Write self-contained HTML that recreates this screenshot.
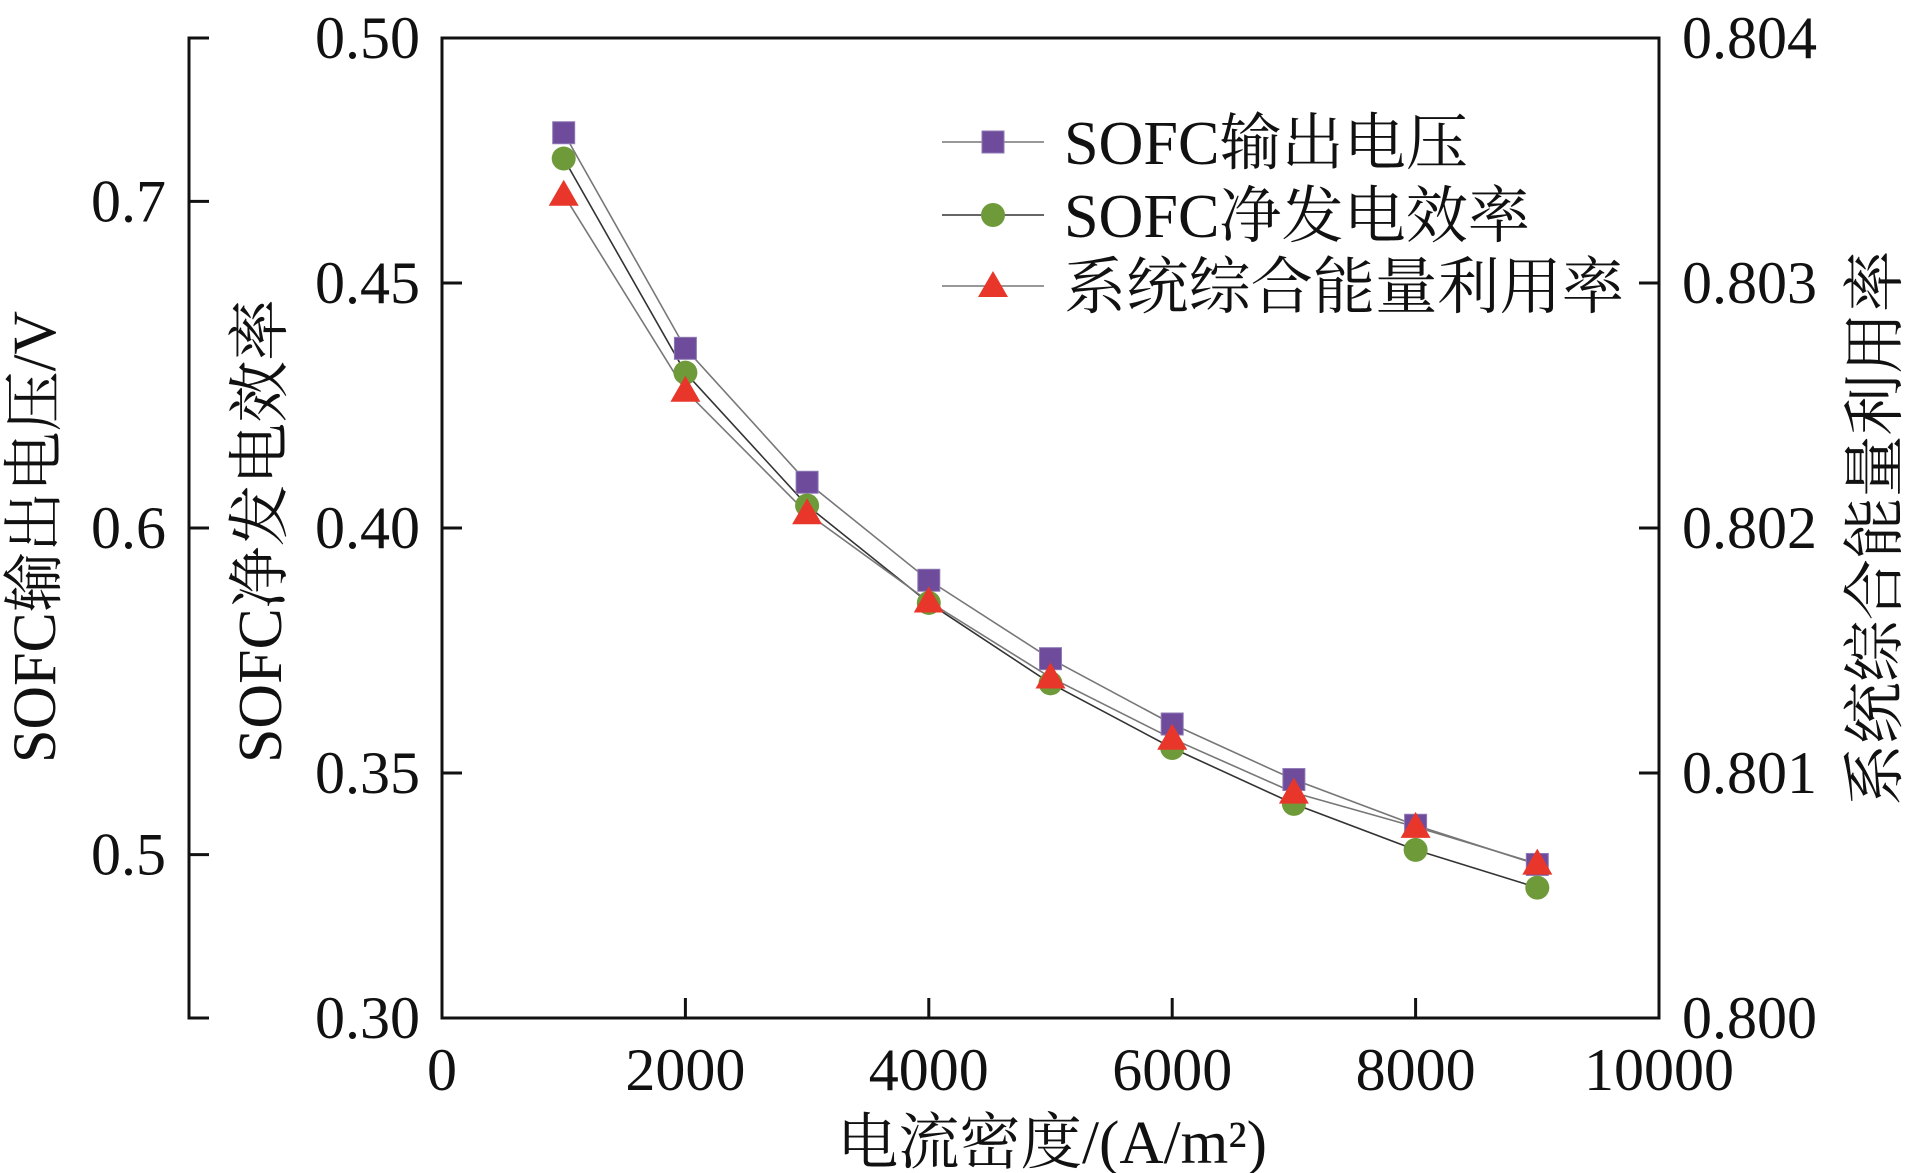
<!DOCTYPE html>
<html><head><meta charset="utf-8"><style>
html,body{margin:0;padding:0;background:#fff;}
svg{display:block;}
text{font-family:"Liberation Serif","Noto Serif CJK SC",serif;fill:#111;}
</style></head><body>
<svg id="chart" width="1908" height="1173" viewBox="0 0 1908 1173"></svg>
<script>
const categories=[1000,2000,3000,4000,5000,6000,7000,8000,9000];
const voltage=[0.721,0.655,0.614,0.584,0.560,0.540,0.523,0.509,0.497];
const efficiency=[0.4754,0.4317,0.4046,0.3847,0.3683,0.3551,0.3437,0.3343,0.3266];
const utilization=[0.80336,0.80256,0.80206,0.80170,0.80139,0.80114,0.80092,0.80078,0.80063];
const xTicks=[0,2000,4000,6000,8000,10000];
const effTicks=["0.30","0.35","0.40","0.45","0.50"];
const voltTicks=["0.5","0.6","0.7"];
const utilTicks=["0.800","0.801","0.802","0.803","0.804"];

const NS="http://www.w3.org/2000/svg";
const svg=document.getElementById('chart');
const L=442,R=1659,T=38,B=1018,OX=189;
const xs=v=>L+(v-0)/10000*(R-L);
const yE=v=>B-(v-0.30)/0.20*(B-T);
const yV=v=>B-(v-0.45)/0.30*(B-T);
const yU=v=>B-(v-0.800)/0.004*(B-T);
function el(tag,attrs,parent){const e=document.createElementNS(NS,tag);for(const k in attrs)e.setAttribute(k,attrs[k]);(parent||svg).appendChild(e);return e;}
function txt(s,attrs){const t=el('text',attrs);t.textContent=s;return t;}

let f=el('rect',{x:L,y:T,width:R-L,height:B-T,fill:'none',stroke:'#111','stroke-width':3});


let oa=el('path',{d:`M${OX+20},${T} H${OX} V${B} H${OX+20}`,fill:'none',stroke:'#111','stroke-width':3});



xTicks.forEach(v=>{
  const x=xs(v);
  if(v>0&&v<10000){const l=el('line',{x1:x,y1:B,x2:x,y2:B-20,stroke:'#111','stroke-width':3});
  
  }
  const t=txt(String(v),{x:x,y:1090,'font-size':60,'text-anchor':'middle'});
  
  
});
effTicks.forEach(s=>{
  const y=yE(+s);
  if(y>T+2&&y<B-2){const l=el('line',{x1:L,y1:y,x2:L+20,y2:y,stroke:'#111','stroke-width':3});
  
  }
  const t=txt(s,{x:420,y:y+20,'font-size':60,'text-anchor':'end'});
  
  
});
voltTicks.forEach(s=>{
  const y=yV(+s);
  const l=el('line',{x1:OX,y1:y,x2:OX+20,y2:y,stroke:'#111','stroke-width':3});
  
  
  const t=txt(s,{x:166,y:y+20,'font-size':60,'text-anchor':'end'});
  
  
});
utilTicks.forEach(s=>{
  const y=yU(+s);
  if(y>T+2&&y<B-2){const l=el('line',{x1:R,y1:y,x2:R-20,y2:y,stroke:'#111','stroke-width':3});
  
  }
  const t=txt(s,{x:1682,y:y+20,'font-size':60,'text-anchor':'start'});
  
  
});

let t1=txt('SOFC输出电压/V',{x:0,y:0,'font-size':61,'text-anchor':'middle',transform:'translate(55,537) rotate(-90)',textLength:452,lengthAdjust:'spacingAndGlyphs'});


let t2=txt('SOFC净发电效率',{x:0,y:0,'font-size':62,'text-anchor':'middle',transform:'translate(281,531) rotate(-90)',textLength:464,lengthAdjust:'spacingAndGlyphs'});


let t3=txt('系统综合能量利用率',{x:0,y:0,'font-size':62,'text-anchor':'middle',transform:'translate(1896,528) rotate(-90)',textLength:555,lengthAdjust:'spacingAndGlyphs'});


let t4=txt('电流密度/(A/m²)',{x:1052,y:1163,'font-size':61,'text-anchor':'middle',textLength:430,lengthAdjust:'spacingAndGlyphs'});



function square(x,y,cls){const r=el('rect',{x:x-11,y:y-11,width:22,height:22,fill:'#6f4c9b',stroke:'#8e7ab5','stroke-width':1});}
function circle(x,y,cls){const c=el('circle',{cx:x,cy:y,r:12,fill:'#6e9a3a'});}
function tri(x,y,cls){const p=el('polygon',{points:`${x},${y-15} ${x+15},${y+11} ${x-15},${y+11}`,fill:'#e8372a'});}
const series=[
 {vals:voltage,fy:yV,color:'#777',mk:square,name:'voltage'},
 {vals:efficiency,fy:yE,color:'#333',mk:circle,name:'efficiency'},
 {vals:utilization,fy:yU,color:'#777',mk:tri,name:'utilization'}];
series.forEach(s=>{
  const pts=categories.map((c,i)=>xs(c)+','+s.fy(s.vals[i])).join(' ');
  const pl=el('polyline',{points:pts,fill:'none',stroke:s.color,'stroke-width':1.6});
  
  
});
series.forEach(s=>{categories.forEach((c,i)=>s.mk(xs(c),s.fy(s.vals[i]),s.name+'-point'));});

const legend=[['SOFC输出电压',square,'#777',142,404],['SOFC净发电效率',circle,'#333',215,466],['系统综合能量利用率',tri,'#777',286,560]];
legend.forEach(([label,mk,col,y,w])=>{
  const l=el('line',{x1:942,y1:y,x2:1044,y2:y,stroke:col,'stroke-width':1.6});
  
  
  mk(993,y,'legend-marker');
  const t=txt(label,{x:1064,y:y+22,'font-size':62,textLength:w,lengthAdjust:'spacingAndGlyphs'});
  
  
});
</script>
</body></html>
